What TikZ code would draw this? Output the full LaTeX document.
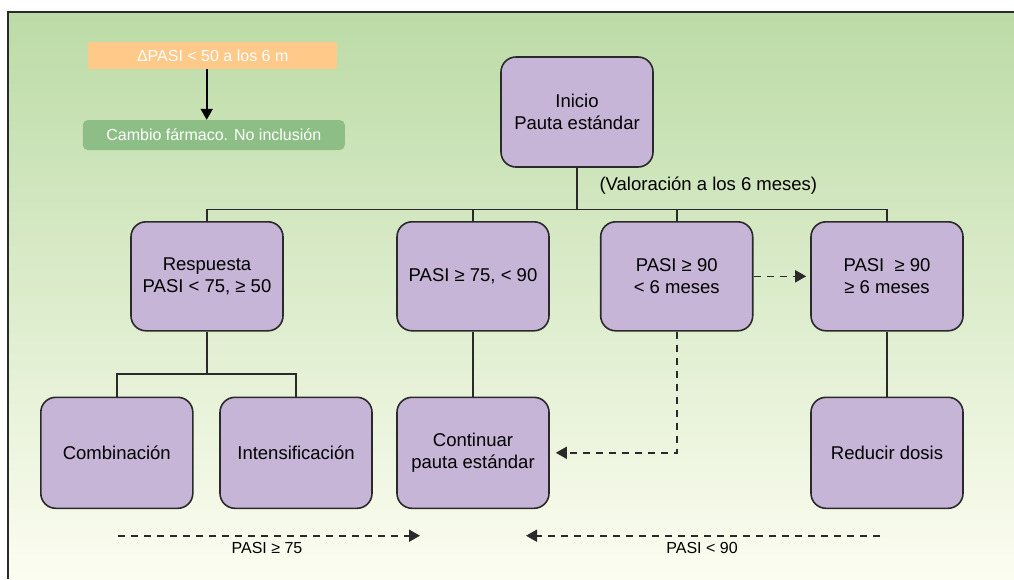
\documentclass[tikz,border=0pt]{standalone}
\usepackage{fontspec}
\setmainfont{Liberation Sans}
\usetikzlibrary{arrows.meta}
\definecolor{bgtop}{HTML}{BCDBA6}
\definecolor{bgbot}{HTML}{FCFDF1}
\definecolor{boxfill}{HTML}{C7B5D7}
\definecolor{orangefill}{HTML}{FFC98A}
\definecolor{greenfill}{HTML}{8DBE86}
\definecolor{linecol}{HTML}{2A2A2A}
\tikzset{
  pbox/.style={draw=linecol, fill=boxfill, line width=1.6pt, rounded corners=15pt,
    minimum width=152pt, minimum height=110pt, align=center, inner sep=2pt,
    font=\fontsize{18.5}{22}\selectfont},
  conn/.style={draw=linecol, line width=1.6pt},
  dconn/.style={draw=linecol, line width=1.6pt, dash pattern=on 7pt off 6pt},
  tip/.style={-{Triangle[length=11pt,width=12pt]}},
  small/.style={font=\fontsize{16}{19}\selectfont},
}
\begin{document}
\begin{tikzpicture}[x=1pt,y=-1pt]
\useasboundingbox (0,0) rectangle (1014,579);
% background
\shade[top color=bgtop, bottom color=bgbot] (8,12) rectangle (1014,579);
\draw[line width=2pt, draw=linecol] (8,579) -- (8,12) -- (1014,12);

% legend
\node[fill=orangefill, minimum width=249pt, minimum height=27pt, inner sep=0pt,
  small, text=white] (dpasi) at (212.7,55.7) {ΔPASI < 50 a los 6 m};
\node[fill=greenfill, rounded corners=5pt, minimum width=262pt, minimum height=30pt,
  inner sep=0pt, small, text=white] (cambio) at (213.8,135) {Cambio fármaco. No inclusión};
\draw[conn, tip, draw=black] ([xshift=-6pt]dpasi.south) -- ([xshift=-6pt]dpasi.south |- cambio.north);

% boxes
\node[pbox] (ini) at (577,112) {Inicio\\Pauta estándar};
\node[pbox, minimum height=109pt] (r) at (207,276.3) {Respuesta\\PASI < 75, ≥ 50};
\node[pbox, minimum height=109pt] (p75) at (473,276.3) {PASI ≥ 75, < 90};
\node[pbox, minimum height=109pt] (p90a) at (676.7,276.3) {PASI ≥ 90\\< 6 meses};
\node[pbox, minimum height=109pt] (p90b) at (887,276.3) {PASI~ ≥ 90\\≥ 6 meses};
\node[pbox, minimum height=111pt] (comb) at (116.8,452.8) {Combinación};
\node[pbox, minimum height=111pt] (int) at (296,452.8) {Intensificación};
\node[pbox, minimum height=111pt] (cont) at (473,452.8) {Continuar\\pauta estándar};
\node[pbox, minimum height=111pt] (red) at (887,452.8) {Reducir dosis};

\node[font=\fontsize{18.5}{22}\selectfont, anchor=west] (val) at (596,186) {(Valoración a los 6 meses)};

% tree connectors
\coordinate (bus) at (577,209.3);
\draw[conn] (ini.south) -- (bus);
\draw[conn] (r.north) |- (bus) -| (p90b.north);
\draw[conn] (p75.north) -- (p75.north |- bus);
\draw[conn] (p90a.north) -- (p90a.north |- bus);

\coordinate (br) at (207,374);
\draw[conn] (r.south) -- (br);
\draw[conn] (comb.north) |- (br) -| (int.north);
\draw[conn] (p75.south) -- (cont.north);
\draw[conn] (p90b.south) -- (red.north);

% dashed connectors
\draw[dconn, tip, shorten >=4pt] (p90a.east) -- (p90b.west);
\draw[dconn, tip, shorten >=6pt] (p90a.south) |- (cont.east);

\coordinate (a1) at (118,535.7);
\coordinate (a2) at (420,535.7);
\coordinate (b1) at (880,535.7);
\coordinate (b2) at (526,535.7);
\draw[dconn, tip] (a1) -- (a2);
\draw[dconn, tip] (b1) -- (b2);
\node[small] (l1) at (267,548) {PASI ≥ 75};
\node[small] (l2) at (702,548) {PASI < 90};
\end{tikzpicture}
\end{document}
